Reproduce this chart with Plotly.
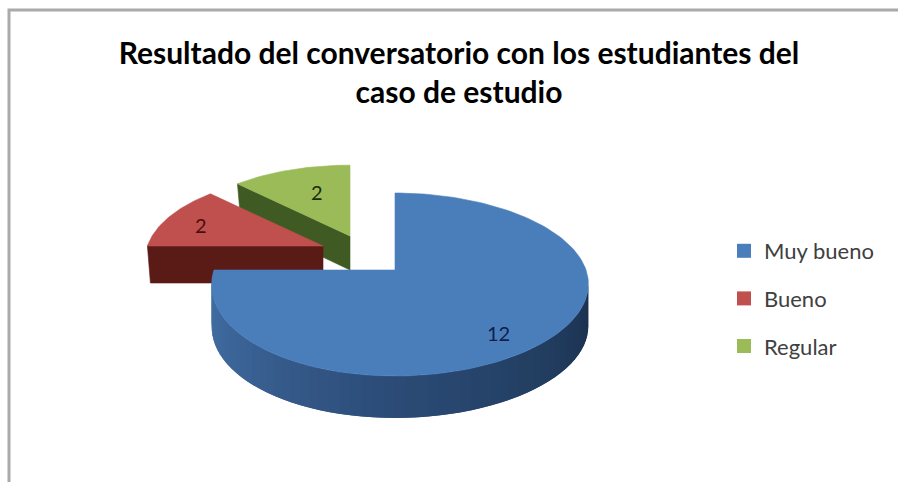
import numpy as np
import plotly.graph_objects as go

# ---- data ----
categories = ["Muy bueno", "Bueno", "Regular"]
values = [12, 2, 2]
title_lines = ["Resultado del conversatorio con los estudiantes del", "caso de estudio"]

# ---- style ----
top_colors = ["#4a7ebb", "#c0504d", "#9bbb59"]
face_colors = [None, "#5a1a15", "#3f5a22"]
centers = [(395, 270), (323, 246), (350, 236)]
scales = [(1.0, 1.0), (0.97, 0.92), (0.97, 0.92)]
depths = [42, 37, 34]
label_offsets = [(103, 63), (-122, -21), (-33, -44)]
side_stops = [(99, (28, 50, 80)), (135, (34, 62, 96)), (180, (44, 76, 120)),
              (225, (58, 98, 148)), (270, (70, 116, 170))]
RX, BEND, RY, K = 186, 5, 89.2, 0.1585


def project(theta_deg, c, sc, r=1.0):
    t = np.radians(theta_deg)
    u, v = r * np.sin(t), r * np.cos(t)
    s = 1 / (1 + K * v)
    x = c[0] + sc[0] * s * (RX * u + BEND * u * u)
    y = c[1] - sc[1] * s * RY * v
    return x, y


def side_color(theta):
    angles = [a for a, _ in side_stops]
    rgb = [int(np.interp(theta, angles, [col[i] for _, col in side_stops])) for i in range(3)]
    return f"rgb({rgb[0]},{rgb[1]},{rgb[2]})"


def poly(xs, ys, color, width=0.6):
    return go.Scatter(x=list(xs), y=list(ys), mode="lines", fill="toself", fillcolor=color,
                      line=dict(color=color, width=width), hoverinfo="skip", showlegend=False)


total = sum(values)
starts = np.cumsum([0] + values[:-1]) / total * 360
ends = np.cumsum(values) / total * 360

fig = go.Figure()

# green and red slices: cut face, then top surface
for i in (2, 1):
    c, sc, d = centers[i], scales[i], depths[i]
    angle = starts[i]
    tx, ty = project(angle, c, sc)
    fig.add_trace(poly([tx, c[0], c[0], tx + 3, tx], [ty, c[1], c[1] + d, ty + d, ty], face_colors[i]))
    th = np.linspace(starts[i], ends[i], 40)
    pts = [project(a, c, sc) for a in th]
    fig.add_trace(poly([c[0]] + [p[0] for p in pts] + [c[0]],
                       [c[1]] + [p[1] for p in pts] + [c[1]], top_colors[i]))

# blue slice: shaded rim in overlapping strips, then top surface
c, sc, d = centers[0], scales[0], depths[0]
edges = np.linspace(99, ends[0], 60)
for a0, a1 in zip(edges[:-2][::-1], edges[2:][::-1]):
    x0, y0 = project(a0, c, sc)
    x1, y1 = project(a1, c, sc)
    fig.add_trace(poly([x0, x1, x1, x0, x0], [y0, y1, y1 + d, y0 + d, y0], side_color((a0 + a1) / 2), width=0))
th = np.linspace(starts[0], ends[0], 160)
pts = [project(a, c, sc) for a in th]
fig.add_trace(poly([c[0]] + [p[0] for p in pts] + [c[0]],
                   [c[1]] + [p[1] for p in pts] + [c[1]], top_colors[0]))

# legend entries
for name, col in zip(categories, top_colors):
    fig.add_trace(go.Scatter(x=[None], y=[None], mode="markers", name=name, legendgroup=name,
                             marker=dict(symbol="square", size=14, color=col)))

annotations = []
label_colors = ["#10204a", "#4a0f0c", "#1c2c08"]
for v, ctr, off, col in zip(values, centers, label_offsets, label_colors):
    annotations.append(dict(x=ctr[0] + off[0], y=ctr[1] + off[1], text=str(v), showarrow=False,
                            xref="x", yref="y", font=dict(family="Lato", size=20, color=col)))

fig.update_layout(
    width=898, height=482, margin=dict(l=0, r=0, t=0, b=0),
    autosize=False,
    paper_bgcolor="white", plot_bgcolor="white",
    xaxis=dict(range=[0, 898], visible=False, fixedrange=True),
    yaxis=dict(range=[482, 0], visible=False, fixedrange=True),
    title=dict(text="<br>".join(title_lines), x=459 / 898, xanchor="center", y=1 - 64 / 482, yanchor="middle",
               font=dict(family="Lato", size=30, color="#000000", weight="bold")),
    legend=dict(x=724 / 898, y=1 - 230 / 482, xanchor="left", yanchor="top", bgcolor="rgba(0,0,0,0)",
                font=dict(family="Lato", size=22, color="#404040"), tracegroupgap=16,
                itemwidth=30, traceorder="grouped"),
    annotations=annotations,
    shapes=[dict(type="rect", xref="x", yref="y", x0=9, x1=960, y0=10, y1=520,
                 line=dict(color="#aaaaaa", width=3))],
)
fig.write_html("out.html", config={"displayModeBar": False},
               post_script="document.body.style.margin='0';")
